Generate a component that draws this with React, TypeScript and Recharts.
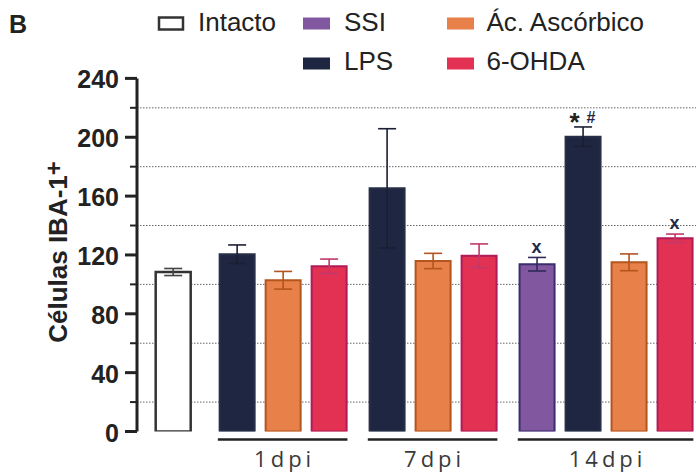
import React from 'react';
import { ComposedChart, Bar, XAxis, YAxis, CartesianGrid, ErrorBar, Scatter } from 'recharts';

// ---------- data ----------
const seriesNames = ['Intacto', 'SSI', 'LPS', 'Ác. Ascórbico', '6-OHDA'];
const groupLabels = ['1dpi', '7dpi', '14dpi'];
const yTicks = [0, 20, 40, 60, 80, 100, 120, 140, 160, 180, 200, 220, 240];
const yLabelTicks = [0, 40, 80, 120, 160, 200, 240];
const gridValues = [20, 60, 100, 140, 180, 220];

const intactoMean = 108.4;
const intactoErr = 2.4;

const ssiMean: (number | null)[] = [null, null, 113.7];
const ssiErr: (number | null)[] = [null, null, 4.6];
const lpsMean: (number | null)[] = [120.5, 165.3, 200.4];
const lpsErr: (number | null)[] = [6.3, 40.5, 6.6];
const ascMean: (number | null)[] = [102.8, 115.9, 115.0];
const ascErr: (number | null)[] = [6.0, 5.2, 5.7];
const ohdaMean: (number | null)[] = [112.3, 119.5, 131.3];
const ohdaErr: (number | null)[] = [4.9, 8.0, 2.9];

const ssiNotes = ['', '', 'x'];
const lpsNotes = ['', '', '*#'];
const ascNotes = ['', '', ''];
const ohdaNotes = ['', '', 'x'];

// ---------- styles / layout ----------
const W = 696;
const H = 475;
const PLOT_LEFT = 137;
const PLOT_TOP = 78.4;
const X_AXIS_H = 43.5;
const DMIN = -0.776;
const DMAX = 11.376;
const PX = (W - PLOT_LEFT) / (DMAX - DMIN);
const FIRST_GAP = 0.39;
const GROUP_GAP = 0.26;
const BAR = 35;

const FONT = '"Liberation Sans", Arial, sans-serif';

const styles: Record<string, { fill: string; stroke: string; err: string; sw: number }> = {
  Intacto: { fill: '#ffffff', stroke: '#333333', err: '#444444', sw: 2.5 },
  SSI: { fill: '#8157a0', stroke: '#3b2d6e', err: '#2f2a5a', sw: 2 },
  LPS: { fill: '#1e2641', stroke: '#283048', err: '#1a1f33', sw: 2 },
  Asc: { fill: '#e8804a', stroke: '#b4541e', err: '#b4541e', sw: 2 },
  OHDA: { fill: '#e23152', stroke: '#b01c58', err: '#c0386c', sw: 2 },
};

const groupSeries = [
  { key: 'SSI', mean: ssiMean, err: ssiErr, notes: ssiNotes },
  { key: 'LPS', mean: lpsMean, err: lpsErr, notes: lpsNotes },
  { key: 'Asc', mean: ascMean, err: ascErr, notes: ascNotes },
  { key: 'OHDA', mean: ohdaMean, err: ohdaErr, notes: ohdaNotes },
];

// ---------- build rows ----------
const rows: any[] = [{ pos: 0, Intacto: intactoMean, eIntacto: intactoErr }];
const notes: any[] = [];
const groups: { label: string; first: number; last: number; center: number; n: number }[] = [];
let start = 1 + FIRST_GAP;
groupLabels.forEach((label, g) => {
  let slot = 0;
  groupSeries.forEach((s) => {
    const m = s.mean[g];
    if (m == null) return;
    const pos = start + slot;
    const e = s.err[g] as number;
    rows.push({ pos, [s.key]: m, ['e' + s.key]: e });
    if (s.notes[g]) notes.push({ pos, top: m + e, note: s.notes[g] });
    slot += 1;
  });
  const first = start;
  const last = start + slot - 1;
  groups.push({ label, first, last, center: (first + last) / 2, n: slot });
  start = last + 1 + GROUP_GAP;
});
const groupCenters = groups.map((g) => g.center);

// ---------- custom renderers ----------
const YTick = (props: any) => {
  const { x, y, payload } = props;
  const v = payload.value;
  const major = yLabelTicks.includes(v);
  return (
    <g>
      <line x1={x - (major ? 12 : 7)} x2={x} y1={y} y2={y} stroke="#222" strokeWidth={major ? 3 : 2} />
      {major && (
        <text x={x - 18} y={y + 10} textAnchor="end" fontFamily={FONT} fontWeight="bold" fontSize={25} fill="#222">
          {v}
        </text>
      )}
    </g>
  );
};

const XTick = (props: any) => {
  const { x, y, index } = props;
  const g = groups[index];
  if (!g) return null;
  const half = ((g.n - 1) / 2) * PX + BAR / 2 + 1.3;
  return (
    <g>
      <line x1={x - half} x2={x + half} y1={y + 8} y2={y + 8} stroke="#222" strokeWidth={2.6} />
      <text
        x={x + 2}
        y={y + 35}
        textAnchor="middle"
        fontFamily='"Open Sans", sans-serif'
        fontSize={22}
        letterSpacing={4}
        fill="#3a3a3a"
      >
        {g.label}
      </text>
    </g>
  );
};

const NoteShape = (props: any) => {
  const { cx, cy, payload } = props;
  const note: string = payload.note;
  const color = '#1e2a48';
  if (note === '*#') {
    return (
      <g>
        <text x={cx - 8} y={cy + 4.5} textAnchor="middle" fontFamily={FONT} fontWeight="bold" fontSize={26} fill="#222">
          *
        </text>
        <text x={cx + 8.5} y={cy - 4} textAnchor="middle" fontFamily={FONT} fontWeight="bold" fontSize={16} fill={color}>
          #
        </text>
      </g>
    );
  }
  return (
    <text x={cx} y={cy - 4.7} textAnchor="middle" fontFamily={FONT} fontWeight="bold" fontSize={18} fill={color}>
      {note}
    </text>
  );
};

const legendItems = [
  { name: seriesNames[0], key: 'Intacto', bx: 159, tx: 198, row: 0 },
  { name: seriesNames[1], key: 'SSI', bx: 303, tx: 344, row: 0 },
  { name: seriesNames[3], key: 'Asc', bx: 447, tx: 486.5, row: 0 },
  { name: seriesNames[2], key: 'LPS', bx: 303, tx: 344, row: 1 },
  { name: seriesNames[4], key: 'OHDA', bx: 447, tx: 486.5, row: 1 },
];

export default function App() {
  const seriesKeys = ['Intacto', 'SSI', 'LPS', 'Asc', 'OHDA'];
  return (
    <div style={{ position: 'absolute', left: 0, top: 0, width: W, height: H, background: '#fff' }}>
      <ComposedChart
        width={W}
        height={H}
        data={rows}
        margin={{ top: PLOT_TOP, right: 0, bottom: 0, left: 0 }}
      >
        <CartesianGrid
          horizontal
          vertical={false}
          horizontalValues={gridValues}
          stroke="#666"
          strokeDasharray="1.5 1.5"
          strokeWidth={1}
        />
        <XAxis
          type="number"
          dataKey="pos"
          domain={[DMIN, DMAX]}
          ticks={groupCenters}
          interval={0}
          height={X_AXIS_H}
          axisLine={false}
          tickLine={false}
          tickSize={0}
          tickMargin={0}
          tick={<XTick />}
          allowDataOverflow
        />
        <YAxis
          type="number"
          domain={[0, 240]}
          ticks={yTicks}
          interval={0}
          width={PLOT_LEFT}
          axisLine={{ stroke: '#222', strokeWidth: 3 }}
          tickLine={false}
          tickSize={0}
          tickMargin={0}
          tick={<YTick />}
          allowDataOverflow
        />
        {seriesKeys.map((k) => (
          <Bar
            key={k}
            dataKey={k}
            stackId="a"
            barSize={BAR}
            fill={styles[k].fill}
            stroke={styles[k].stroke}
            strokeWidth={styles[k].sw}
            isAnimationActive={false}
          >
            <ErrorBar dataKey={'e' + k} width={9} stroke={styles[k].err} strokeWidth={1.6} direction="y" />
          </Bar>
        ))}
        <Scatter data={notes} dataKey="top" shape={NoteShape} isAnimationActive={false} />
      </ComposedChart>
      <svg
        width={W}
        height={H}
        style={{ position: 'absolute', left: 0, top: 0, pointerEvents: 'none' }}
      >
        <text x={9} y={33} fontFamily={FONT} fontWeight="bold" fontSize={25} fill="#222">
          B
        </text>
        {legendItems.map((it) => {
          const st = styles[it.key];
          const by = it.row === 0 ? 17.5 : 57.5;
          const ty = it.row === 0 ? 30.5 : 70;
          return (
            <g key={it.key}>
              {it.key === 'Intacto' ? (
                <rect x={it.bx} y={by} width={24} height={12} fill="#fff" stroke="#333" strokeWidth={2.5} />
              ) : (
                <rect x={it.bx} y={by} width={27} height={12} fill={st.fill} />
              )}
              <text x={it.tx} y={ty} fontFamily={FONT} fontSize={26} fill="#222">
                {it.name}
              </text>
            </g>
          );
        })}
        <text
          transform="translate(67,252) rotate(-90)"
          textAnchor="middle"
          fontFamily={FONT}
          fontWeight="bold"
          fontSize={26}
          fill="#222"
        >
          Células IBA-1
          <tspan fontSize={24} dy={-5}>+</tspan>
        </text>
      </svg>
    </div>
  );
}
